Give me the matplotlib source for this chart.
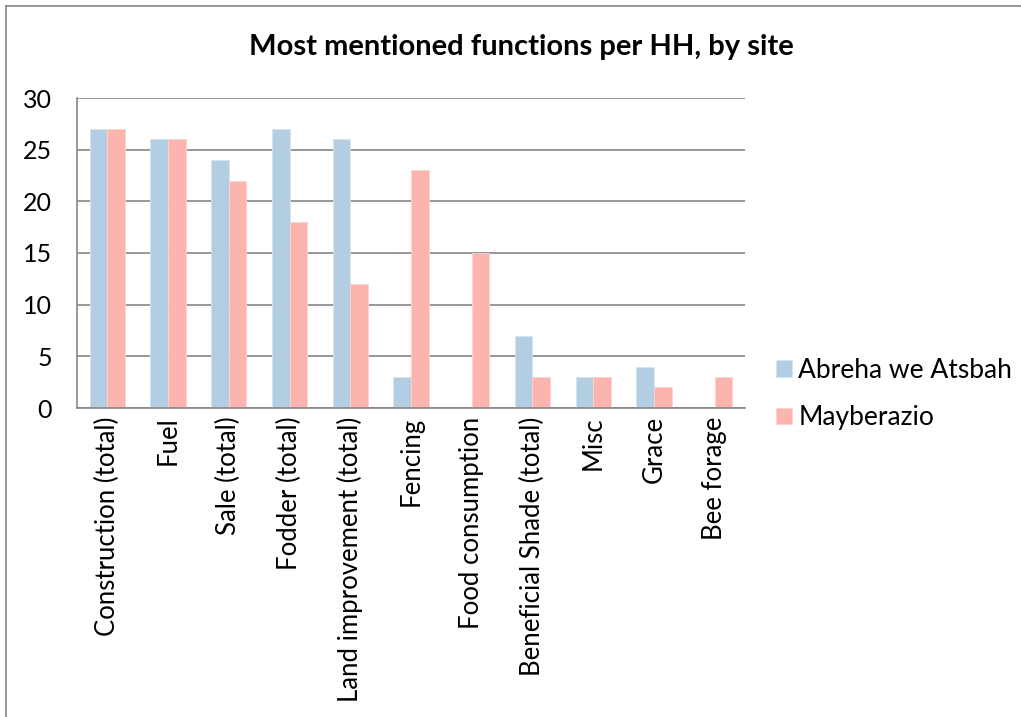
import matplotlib.pyplot as plt
import numpy as np

# Functions mentioned per household, per site
categories = ["Construction (total)", "Fuel", "Sale (total)", "Fodder (total)",
              "Land improvement (total)", "Fencing", "Food consumption",
              "Beneficial Shade (total)", "Misc", "Grace", "Bee forage"]
abreha = [27, 26, 24, 27, 26, 3, 0, 7, 3, 4, 0]
mayberazio = [27, 26, 22, 18, 12, 23, 15, 3, 3, 2, 3]
series_names = ["Abreha we Atsbah", "Mayberazio"]

plt.rcParams['font.family'] = ['Lato', 'DejaVu Sans']

fig = plt.figure(figsize=(10.21, 7.17), dpi=100)
ax = fig.add_axes([77 / 1021, 1 - 408 / 717, 668 / 1021, 310 / 717])

x = np.arange(len(categories))
w = 0.29
ax.bar(x - w / 2, abreha, w, color='#B3CDE3', edgecolor='#D6E4F0', linewidth=0.6,
       label=series_names[0], zorder=3)
ax.bar(x + w / 2, mayberazio, w, color='#FBB4AE', edgecolor='#FDD3CF', linewidth=0.6,
       label=series_names[1], zorder=3)

ax.set_xlim(-0.5, len(categories) - 0.5)
ax.set_ylim(0, 30)
ax.set_yticks(range(0, 31, 5))
ax.set_xticks(x)
ax.set_xticklabels(categories, rotation=90, fontsize=18.5)
ax.tick_params(axis='y', length=0, pad=18, labelsize=18)
ax.tick_params(axis='x', length=0, pad=6)

ax.grid(axis='y', color='#868686', linewidth=1.2, zorder=1)
for s in ['top', 'right']:
    ax.spines[s].set_visible(False)
for s in ['left', 'bottom']:
    ax.spines[s].set_color('#868686')
    ax.spines[s].set_linewidth(1.2)
    ax.spines[s].set_zorder(4)

fig.text(521 / 1021, 1 - 47 / 717, "Most mentioned functions per HH, by site",
         ha='center', va='center', fontsize=21, fontweight='bold')

fig.legend(loc='center left', bbox_to_anchor=(752 / 1021, 1 - 394 / 717),
           frameon=False, fontsize=19, handlelength=0.6, handleheight=0.6,
           handletextpad=0.25, labelspacing=0.85)

# outer chart border (only top and left visible in the reference)
fig.add_artist(plt.Line2D([6 / 1021, 1], [1 - 6 / 717, 1 - 6 / 717],
                          transform=fig.transFigure, color='#868686', linewidth=1.2))
fig.add_artist(plt.Line2D([6 / 1021, 6 / 1021], [0, 1 - 6 / 717],
                          transform=fig.transFigure, color='#868686', linewidth=1.2))

fig.savefig("out.png", dpi=100)
